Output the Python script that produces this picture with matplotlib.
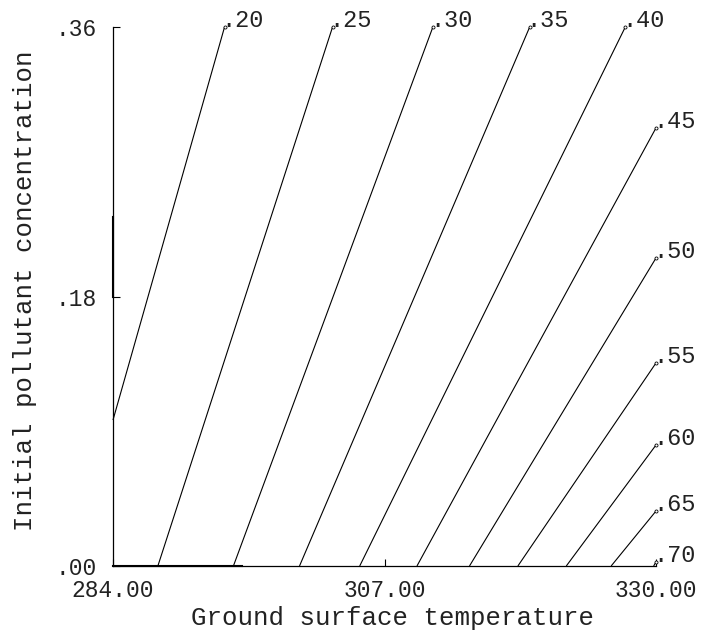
import matplotlib
matplotlib.use("Agg")
import matplotlib.pyplot as plt

# contour levels and the two end points of each (straight) isoline
levels = [".20", ".25", ".30", ".35", ".40", ".45", ".50", ".55", ".60", ".65", ".70"]
x_start = [284.0, 287.8, 294.2, 299.8, 304.9, 309.75, 314.2, 318.3, 322.4, 326.2, 329.8]
y_start = [0.0975, 0.0, 0.0, 0.0, 0.0, 0.0, 0.0, 0.0, 0.0, 0.0, 0.0]
x_end = [293.45, 302.6, 311.1, 319.3, 327.4, 330.0, 330.0, 330.0, 330.0, 330.0, 330.0]
y_end = [0.36, 0.36, 0.36, 0.36, 0.36, 0.2926, 0.2057, 0.1356, 0.0808, 0.0367, 0.0027]

xticks = [284.0, 307.0, 330.0]
xtick_labels = ["284.00", "307.00", "330.00"]
yticks = [0.0, 0.18, 0.36]
ytick_labels = [".00", ".18", ".36"]

FONT = "Liberation Mono"
INK = "#222222"

fig = plt.figure(figsize=(7.03, 6.33), dpi=100)
ax = fig.add_axes([113/703, 1 - 566/633, 543/703, 539/633])

for lab, x0, y0, x1, y1 in zip(levels, x_start, y_start, x_end, y_end):
    ax.plot([x0, x1], [y0, y1], color="black", lw=0.8, solid_capstyle="butt",
            clip_on=False)
    ax.plot([x1], [y1], marker="o", ms=2.2, mfc="white", mec="black", mew=0.6,
            clip_on=False)
    ax.annotate(lab, (x1, y1), xytext=(-3, 0), textcoords="offset pixels",
                ha="left", va="baseline", fontsize=17, family=FONT, color=INK,
                annotation_clip=False)

# heavier stretches along the frame edges
ax.plot([284.0, 294.9], [0.0, 0.0], color="black", lw=1.5, clip_on=False)
ax.plot([284.0, 284.0], [0.18, 0.233], color="black", lw=1.5, clip_on=False)

ax.set_xlim(284, 330)
ax.set_ylim(0, 0.36)
for s in ["top", "right"]:
    ax.spines[s].set_visible(False)
for s in ["left", "bottom"]:
    ax.spines[s].set_linewidth(0.9)
    ax.spines[s].set_color("black")

ax.set_xticks(xticks, xtick_labels)
ax.set_yticks(yticks, ytick_labels)
ax.tick_params(direction="in", length=5, width=0.8, colors="black",
               labelcolor=INK, labelsize=16.5)
ax.tick_params(axis="y", pad=12)
ax.tick_params(axis="x", pad=9.5)
for t in ax.get_xticklabels() + ax.get_yticklabels():
    t.set_family(FONT)

ax.set_xlabel("Ground surface temperature", fontsize=18.5, family=FONT, color=INK)
ax.set_ylabel("Initial pollutant concentration", fontsize=18.5, family=FONT, color=INK)
ax.xaxis.set_label_coords(0.515, -0.075)
ax.yaxis.set_label_coords(-0.14, 0.51)

fig.savefig("out.png", dpi=100)
